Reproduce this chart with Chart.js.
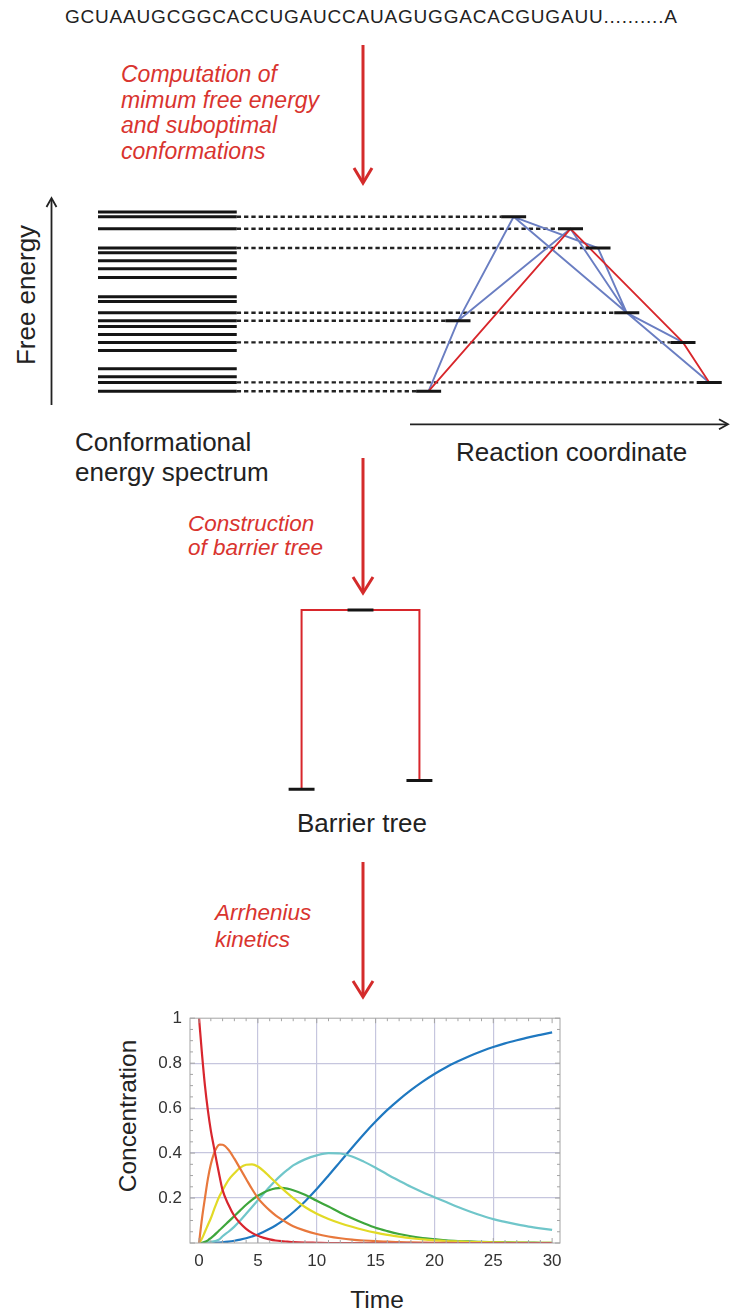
<!DOCTYPE html>
<html>
<head>
<meta charset="utf-8">
<script src="https://cdn.jsdelivr.net/npm/chart.js@4.4.1/dist/chart.umd.min.js"></script>
<style>
  html, body { margin: 0; padding: 0; background: #fff; }
  body { width: 730px; height: 1313px; position: relative; overflow: hidden;
         font-family: "Liberation Sans", Arial, Helvetica, sans-serif; color: #222; }
  .abs { position: absolute; white-space: nowrap; }
  .note { color: #d9342f; font-style: italic; font-size: 22.5px; }
  .label { font-size: 26px; color: #222; }
  .box { position: absolute; }
  .rot { transform: translate(-50%, -50%) rotate(-90deg); }
  .mid { transform: translate(-50%, -50%); }
</style>
</head>
<body>

<svg class="abs" width="730" height="1313" style="left:0;top:0">
  <g stroke="#d42b2b" stroke-width="3" fill="none" stroke-linecap="butt">
    <line x1="363" y1="45" x2="363" y2="182"/>
    <polyline points="354,168 363,183 372,168"/>
    <line x1="363" y1="458" x2="363" y2="592"/>
    <polyline points="353,577 363,593 373,577"/>
    <line x1="363" y1="862" x2="363" y2="996"/>
    <polyline points="353,981 363,997 373,981"/>
  </g>
  <g stroke="#222" stroke-width="1.8" fill="none">
    <line x1="51.5" y1="405" x2="51.5" y2="199"/>
    <polyline points="46.5,207 51.5,198 56.5,207"/>
    <line x1="410" y1="424.3" x2="727" y2="424.3"/>
    <polyline points="719,419.3 728,424.3 719,429.3"/>
  </g>
</svg>

<div class="abs" style="left:65px; top:6px; font-size:19px; letter-spacing:0.8px; line-height:22px;">GCUAAUGCGGCACCUGAUCCAUAGUGGACACGUGAUU..........A</div>

<div class="abs note" style="left:121px; top:62px; line-height:25.6px; font-size:23px;">Computation of<br>mimum free energy<br>and suboptimal<br>conformations</div>

<div class="abs label rot" style="left:26px; top:295px;">Free energy</div>
<div class="abs label" style="left:75px; top:427px; line-height:30px;">Conformational<br>energy spectrum</div>
<div class="abs label" style="left:456px; top:437px; line-height:30px;">Reaction coordinate</div>

<div class="abs note" style="left:188px; top:512px; line-height:24px;">Construction<br>of barrier tree</div>
<div class="abs label mid" style="left:362px; top:823px;">Barrier tree</div>

<div class="abs note" style="left:215px; top:899px; line-height:27px;">Arrhenius<br>kinetics</div>

<div class="abs label rot" style="left:128px; top:1116px; font-size:24.5px;">Concentration</div>
<div class="abs label mid" style="left:377px; top:1300px; font-size:24.5px;">Time</div>

<div class="box" style="left:98px; top:196px; width:625px; height:208px;"><canvas id="landscape"></canvas></div>
<div class="box" style="left:278px; top:594px; width:165px; height:208px;"><canvas id="tree"></canvas></div>
<div class="box" style="left:100px; top:1000px; width:470px; height:313px;"><canvas id="kinetics"></canvas></div>

<script>
// energy spectrum (free energy, arbitrary units)
const spectrumEnergy = [-4.0, -4.6, -6.1, -8.5, -9.1, -10.1, -11.1, -12.2, -14.6, -15.2,
                        -16.6, -17.6, -18.3, -19.3, -20.3, -21.3, -23.6, -24.6, -25.3, -26.4];
const spectrumFrom = 0;
const spectrumTo = 22.2;

// states placed on the reaction coordinate
const stateCoord  = [66.5, 75.6, 80.0, 84.6, 57.6, 93.6, 97.8, 52.9];
const stateEnergy = [-4.6, -6.1, -8.5, -16.6, -17.6, -20.3, -25.3, -26.4];
const levelHalf = 2.0;

// paths between states (indexes into the state arrays)
const redPath = [[7, 1, 5, 6]];
const bluePaths = [[7, 4, 0], [4, 1], [0, 2, 3], [0, 3], [1, 3], [3, 5], [3, 6]];

// barrier tree
const leafX = [1, 2];
const leafEnergy = [-26.4, -25.3];
const saddleX = 1.5;
const saddleEnergy = -4.0;
const markHalf = 0.11;

// kinetics
const times = [0, 0.25, 0.5, 0.75, 1, 1.25, 1.5, 1.75, 2, 2.5, 3, 3.5, 4, 4.5, 5, 5.5, 6, 6.5, 7, 7.5, 8,
               9, 10, 11, 12, 13, 14, 15, 16, 17, 18, 19, 20, 21, 22, 23, 24, 25, 26, 27, 28, 29, 30];
const redConc = [1, 0.84, 0.70, 0.59, 0.50, 0.43, 0.36, 0.295, 0.235, 0.17, 0.12, 0.088, 0.063, 0.045, 0.032, 0.023, 0.016, 0.011, 0.008, 0.006, 0.004,
                 0.002, 0.001, 0, 0, 0, 0, 0, 0, 0, 0, 0, 0, 0, 0, 0, 0, 0, 0, 0, 0, 0, 0];
const orangeConc = [0, 0.11, 0.2, 0.285, 0.35, 0.395, 0.425, 0.438, 0.437, 0.415, 0.375, 0.33, 0.285, 0.24, 0.2, 0.17, 0.145, 0.123, 0.105, 0.089, 0.075,
                    0.055, 0.04, 0.029, 0.021, 0.015, 0.011, 0.008, 0.006, 0.004, 0.003, 0.002, 0.001, 0.001, 0, 0, 0, 0, 0, 0, 0, 0, 0];
const yellowConc = [0, 0.02, 0.05, 0.08, 0.11, 0.145, 0.18, 0.21, 0.235, 0.28, 0.31, 0.335, 0.348, 0.35, 0.34, 0.32, 0.295, 0.27, 0.245, 0.222, 0.2,
                    0.16, 0.13, 0.107, 0.088, 0.072, 0.058, 0.046, 0.036, 0.028, 0.021, 0.016, 0.012, 0.009, 0.007, 0.005, 0.004, 0.003, 0.002, 0.002, 0.001, 0.001, 0.001];
const greenConc = [0, 0.001, 0.005, 0.012, 0.022, 0.033, 0.045, 0.058, 0.07, 0.095, 0.12, 0.145, 0.17, 0.192, 0.21, 0.225, 0.236, 0.243, 0.245, 0.242, 0.235,
                   0.215, 0.188, 0.162, 0.135, 0.11, 0.088, 0.068, 0.053, 0.04, 0.03, 0.022, 0.017, 0.012, 0.009, 0.007, 0.005, 0.004, 0.003, 0.002, 0.002, 0.001, 0.001];
const cyanConc = [0, 0, 0.001, 0.002, 0.004, 0.007, 0.011, 0.017, 0.03, 0.05, 0.073, 0.1, 0.13, 0.16, 0.19, 0.22, 0.25, 0.278, 0.303, 0.325, 0.345,
                  0.372, 0.39, 0.4, 0.398, 0.385, 0.362, 0.335, 0.305, 0.277, 0.25, 0.226, 0.204, 0.182, 0.16, 0.14, 0.122, 0.106, 0.094, 0.083, 0.073, 0.065, 0.058];
const blueConc = [0, 0, 0, 0, 0.001, 0.001, 0.002, 0.002, 0.003, 0.006, 0.01, 0.015, 0.021, 0.029, 0.038, 0.05, 0.063, 0.078, 0.095, 0.115, 0.137,
                  0.185, 0.24, 0.3, 0.362, 0.424, 0.484, 0.54, 0.592, 0.638, 0.68, 0.718, 0.752, 0.782, 0.808, 0.832, 0.853, 0.872, 0.888, 0.902, 0.915, 0.926, 0.937];
const xTicks = [0, 5, 10, 15, 20, 25, 30];
const yTicks = [0.2, 0.4, 0.6, 0.8, 1];

Chart.defaults.font.family = '"Liberation Sans", Arial, Helvetica, sans-serif';
Chart.defaults.color = '#333';

const quiet = {
  responsive: true,
  maintainAspectRatio: false,
  animation: false,
  events: [],
  layout: { padding: 0 },
  plugins: { legend: { display: false }, tooltip: { enabled: false } }
};

// join several short polylines into one dataset, split by gaps
function segments(list) {
  const out = [];
  list.forEach(seg => {
    seg.forEach(p => out.push(p));
    out.push({ x: seg[seg.length - 1].x, y: null });
  });
  return out;
}
const node = i => ({ x: stateCoord[i], y: stateEnergy[i] });

const spectrumSegs = segments(spectrumEnergy.map(e => [{ x: spectrumFrom, y: e }, { x: spectrumTo, y: e }]));
const dashSegs = segments(stateEnergy.map((e, i) => [{ x: spectrumTo, y: e }, { x: stateCoord[i] - levelHalf, y: e }]));
const levelSegs = segments(stateEnergy.map((e, i) => [{ x: stateCoord[i] - levelHalf, y: e }, { x: stateCoord[i] + levelHalf, y: e }]));
const redSegs = segments(redPath.map(p => p.map(node)));
const blueSegs = segments(bluePaths.map(p => p.map(node)));

function lineSet(data, color, width, order, dash) {
  return { data, borderColor: color, borderWidth: width, pointRadius: 0, order,
           borderDash: dash || [], spanGaps: false, clip: false, tension: 0 };
}

new Chart(document.getElementById('landscape'), {
  type: 'line',
  data: {
    datasets: [
      lineSet(spectrumSegs, '#151515', 3, 1),
      lineSet(levelSegs, '#151515', 3, 1),
      lineSet(redSegs, '#d8262b', 1.8, 2),
      lineSet(blueSegs, '#6a7ec2', 1.9, 3),
      lineSet(dashSegs, '#222', 2.4, 4, [4.3, 3])
    ]
  },
  options: Object.assign({}, quiet, {
    scales: {
      x: { type: 'linear', min: 0, max: 100, display: false },
      y: { type: 'linear', min: -28, max: -2, display: false }
    }
  })
});

const treeBranch = segments([[
  { x: leafX[0], y: leafEnergy[0] }, { x: leafX[0], y: saddleEnergy },
  { x: leafX[1], y: saddleEnergy }, { x: leafX[1], y: leafEnergy[1] }
]]);
const treeMarks = segments([
  [{ x: saddleX - markHalf, y: saddleEnergy }, { x: saddleX + markHalf, y: saddleEnergy }],
  ...leafX.map((x, i) => [{ x: x - markHalf, y: leafEnergy[i] }, { x: x + markHalf, y: leafEnergy[i] }])
]);

new Chart(document.getElementById('tree'), {
  type: 'line',
  data: {
    datasets: [
      lineSet(treeMarks, '#151515', 3, 1),
      lineSet(treeBranch, '#d8262b', 2, 2)
    ]
  },
  options: Object.assign({}, quiet, {
    scales: {
      x: { type: 'linear', min: 0.8, max: 2.2, display: false },
      y: { type: 'linear', min: -28, max: -2, display: false }
    }
  })
});

const series = [
  ['#d8262e', redConc], ['#e8783c', orangeConc], ['#e2da26', yellowConc],
  ['#3ea63c', greenConc], ['#70c6ca', cyanConc], ['#1f78c0', blueConc]
];
const gridColor = '#c6c6de';

const frame = {
  id: 'frame',
  afterDraw(chart) {
    const { ctx, chartArea: a, scales: { x, y } } = chart;
    ctx.save();
    ctx.strokeStyle = '#a4a4a4';
    ctx.lineWidth = 1;
    ctx.beginPath();
    for (let t = 0; t <= 30; t++) {
      const px = x.getPixelForValue(t), len = t % 5 === 0 ? 5 : 3;
      ctx.moveTo(px, a.bottom); ctx.lineTo(px, a.bottom - len);
      ctx.moveTo(px, a.top); ctx.lineTo(px, a.top + len);
    }
    for (let v = 0; v <= 1.0001; v += 0.05) {
      const py = y.getPixelForValue(v), len = Math.round(v * 20) % 4 === 0 ? 5 : 3;
      ctx.moveTo(a.left, py); ctx.lineTo(a.left + len, py);
      ctx.moveTo(a.right, py); ctx.lineTo(a.right - len, py);
    }
    ctx.stroke();
    ctx.strokeRect(a.left, a.top, a.right - a.left, a.bottom - a.top);
    ctx.restore();
  }
};

new Chart(document.getElementById('kinetics'), {
  type: 'line',
  data: {
    datasets: series.map(([color, vals]) => ({
      data: times.map((t, i) => ({ x: t, y: vals[i] })),
      borderColor: color, borderWidth: 2.2, pointRadius: 0,
      cubicInterpolationMode: 'monotone'
    }))
  },
  options: Object.assign({}, quiet, {
    layout: { padding: { top: 15, right: 10, left: 0, bottom: 0 } },
    scales: {
      x: {
        type: 'linear', min: -0.77, max: 30.67,
        afterBuildTicks: s => { s.ticks = xTicks.map(v => ({ value: v })); },
        afterFit: s => { s.height = 70; },
        ticks: { padding: 8, font: { size: 17 }, color: '#333', callback: v => String(v) },
        grid: { drawTicks: false, lineWidth: 1.2,
                color: c => (c.tick && (c.tick.value === 0 || c.tick.value === 30)) ? 'rgba(0,0,0,0)' : gridColor },
        border: { display: false }
      },
      y: {
        type: 'linear', min: 0, max: 1,
        afterBuildTicks: s => { s.ticks = yTicks.map(v => ({ value: v })); },
        afterFit: s => { s.width = 90; },
        ticks: { padding: 8, font: { size: 17 }, color: '#333',
                 callback: v => v === 1 ? '1' : v.toFixed(1) },
        grid: { drawTicks: false, lineWidth: 1.2,
                color: c => (c.tick && c.tick.value >= 1) ? 'rgba(0,0,0,0)' : gridColor },
        border: { display: false }
      }
    }
  }),
  plugins: [frame]
});
</script>
</body>
</html>
